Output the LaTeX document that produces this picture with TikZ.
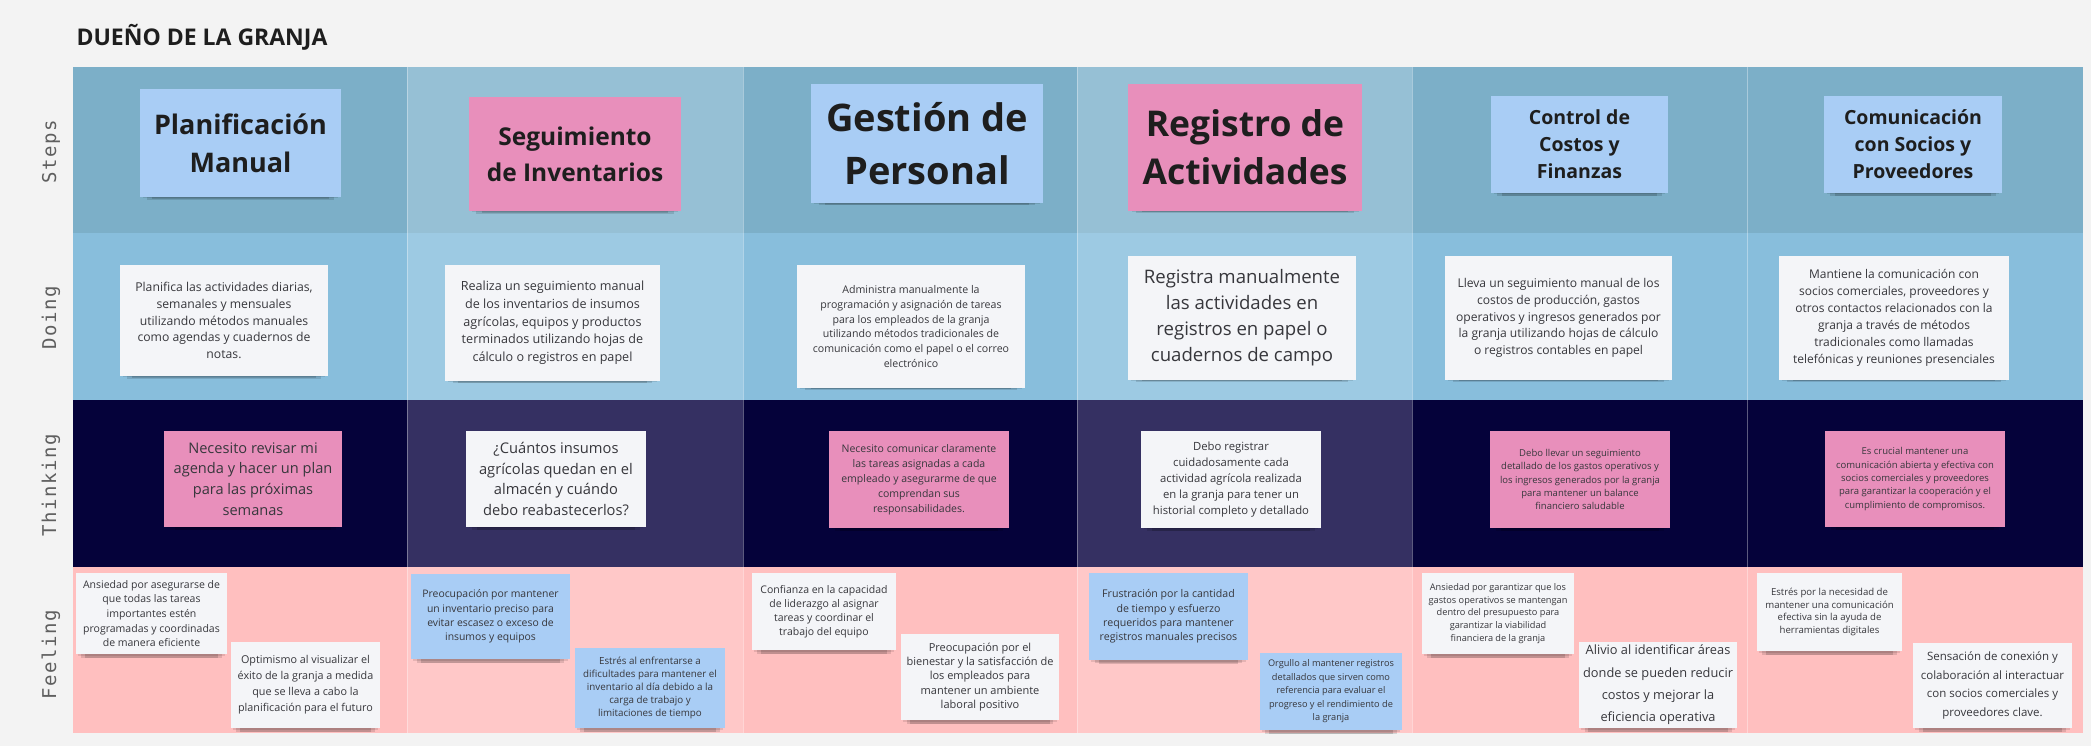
\documentclass[tikz,border=0pt]{standalone}
\usepackage{fontspec}
\setmainfont{Open Sans}
\newfontfamily\labelfont[LetterSpace=8]{DejaVu Sans Mono}
\usepackage{xcolor}
\definecolor{pagebg}{RGB}{243, 243, 243}
\definecolor{titleblack}{RGB}{30, 30, 30}
\definecolor{labelgray}{RGB}{95, 95, 95}
\definecolor{stepdark}{RGB}{124, 175, 200}
\definecolor{steplight}{RGB}{150, 192, 213}
\definecolor{doingdark}{RGB}{136, 190, 220}
\definecolor{doinglight}{RGB}{157, 202, 227}
\definecolor{thinkdark}{RGB}{5, 2, 58}
\definecolor{thinklight}{RGB}{53, 48, 98}
\definecolor{feeldark}{RGB}{255, 191, 191}
\definecolor{feellight}{RGB}{255, 200, 200}
\definecolor{noteblue}{RGB}{169, 205, 245}
\definecolor{notepink}{RGB}{232, 143, 187}
\definecolor{notewhite}{RGB}{244, 245, 248}
\definecolor{notetext}{RGB}{55, 55, 60}
\usepackage{tikz}
\usetikzlibrary{shadows}
\newcommand\fsz[2]{\fontsize{#1}{#2}\selectfont}
\tikzset{
  sticky/.style={align=center, inner sep=0pt, text=notetext,
                 drop shadow={shadow xshift=0pt, shadow yshift=-3pt,
                              shadow scale=0.97, opacity=0.10, fill=black},
                 drop shadow={shadow xshift=0pt, shadow yshift=-7pt,
                              shadow scale=0.93, opacity=0.12, fill=black},
                 drop shadow={shadow xshift=0pt, shadow yshift=-10pt,
                              shadow scale=0.88, opacity=0.14, fill=black}},
  bluenote/.style={sticky, fill=noteblue},
  pinknote/.style={sticky, fill=notepink},
  whitenote/.style={sticky, fill=notewhite},
  steptitle/.style={text=titleblack},
  rowlabel/.style={rotate=90, text=labelgray, font=\labelfont\fsz{19}{22}},
  colline/.style={draw=white, opacity=0.35, line width=1pt}
}

\begin{document}
\begin{tikzpicture}[x=1pt, y=-1pt]
    \fill[pagebg] (0,0) rectangle (2091,746);
    \useasboundingbox (0,0) rectangle (2091,746);

    \node[anchor=west, font=\bfseries\fsz{23}{28}, text=titleblack]
         (title) at (73,37) {DUEÑO DE LA GRANJA};

    \fill[stepdark] (73,67) rectangle (2083,233);
    \fill[steplight] (407,67) rectangle (743,233);
    \fill[steplight] (1077,67) rectangle (1412,233);
    \fill[doingdark] (73,233) rectangle (2083,400);
    \fill[doinglight] (407,233) rectangle (743,400);
    \fill[doinglight] (1077,233) rectangle (1412,400);
    \fill[thinkdark] (73,400) rectangle (2083,567);
    \fill[thinklight] (407,400) rectangle (743,567);
    \fill[thinklight] (1077,400) rectangle (1412,567);
    \fill[feeldark] (73,567) rectangle (2083,733);
    \fill[feellight] (407,567) rectangle (743,733);
    \fill[feellight] (1077,567) rectangle (1412,733);
    \draw[colline] (407,67) -- (407,733);
    \draw[colline] (743,67) -- (743,733);
    \draw[colline] (1077,67) -- (1077,733);
    \draw[colline] (1412,67) -- (1412,733);
    \draw[colline] (1747,67) -- (1747,733);

    \node[rowlabel] (lsteps) at (51,152) {Steps};
    \node[rowlabel] (ldoing) at (51,318) {Doing};
    \node[rowlabel] (lthink) at (51,485) {Thinking};
    \node[rowlabel] (lfeel) at (51,655) {Feeling};

    % steps
    \node[bluenote, steptitle, minimum width=201, minimum height=108,
          font=\bfseries\fsz{27}{38}] (plan) at (240.5,143)
         {Planificación\\Manual};
    \node[pinknote, steptitle, minimum width=212, minimum height=114,
          font=\bfseries\fsz{24.5}{36}] (inv) at (575,154)
         {Seguimiento\\de Inventarios};
    \node[bluenote, steptitle, minimum width=232, minimum height=119,
          font=\bfseries\fsz{38}{53}] (pers) at (927,143.5)
         {Gestión de\\Personal};
    \node[pinknote, steptitle, minimum width=234, minimum height=127,
          font=\bfseries\fsz{35.5}{48}] (reg) at (1245,147.5)
         {Registro de\\Actividades};
    \node[bluenote, steptitle, minimum width=177, minimum height=97,
          font=\bfseries\fsz{19.5}{27}] (cost) at (1579.5,144.5)
         {Control de\\Costos y\\Finanzas};
    \node[bluenote, steptitle, minimum width=178, minimum height=97,
          font=\bfseries\fsz{19.5}{27}] (com) at (1913,144.5)
         {Comunicación\\con Socios y\\Proveedores};

    % doing
    \node[whitenote, minimum width=208, minimum height=111,
          font=\fsz{12.2}{16.8}] (planD) at (224,320.5)
         {Planifica las actividades diarias,\\semanales y mensuales\\utilizando métodos manuales\\como agendas y cuadernos de\\notas.};
    \node[whitenote, minimum width=215, minimum height=116,
          font=\fsz{12.6}{17.7}] (invD) at (552.5,323)
         {Realiza un seguimiento manual\\de los inventarios de insumos\\agrícolas, equipos y productos\\terminados utilizando hojas de\\cálculo o registros en papel};
    \node[whitenote, minimum width=228, minimum height=123,
          font=\fsz{10.6}{14.9}] (persD) at (911,326.5)
         {Administra manualmente la\\programación y asignación de tareas\\para los empleados de la granja\\utilizando métodos tradicionales de\\comunicación como el papel o el correo\\electrónico};
    \node[whitenote, minimum width=228, minimum height=124,
          font=\fsz{18.6}{26}] (regD) at (1242,318)
         {Registra manualmente\\las actividades en\\registros en papel o\\cuadernos de campo};
    \node[whitenote, minimum width=227, minimum height=124,
          font=\fsz{12.1}{16.7}] (costD) at (1558.5,318)
         {Lleva un seguimiento manual de los\\costos de producción, gastos\\operativos y ingresos generados por\\la granja utilizando hojas de cálculo\\o registros contables en papel};
    \node[whitenote, minimum width=230, minimum height=124,
          font=\fsz{12}{16.9}] (comD) at (1894,318)
         {Mantiene la comunicación con\\socios comerciales, proveedores y\\otros contactos relacionados con la\\granja a través de métodos\\tradicionales como llamadas\\telefónicas y reuniones presenciales};

    % thinking
    \node[pinknote, minimum width=178, minimum height=96,
          font=\fsz{14.6}{20.6}] (planT) at (253,479)
         {Necesito revisar mi\\agenda y hacer un plan\\para las próximas\\semanas};
    \node[whitenote, minimum width=180, minimum height=96,
          font=\fsz{14.7}{20.6}] (invT) at (556,479)
         {¿Cuántos insumos\\agrícolas quedan en el\\almacén y cuándo\\debo reabastecerlos?};
    \node[pinknote, minimum width=180, minimum height=97,
          font=\fsz{10.5}{15}] (persT) at (919,479.5)
         {Necesito comunicar claramente\\las tareas asignadas a cada\\empleado y asegurarme de que\\comprendan sus\\responsabilidades.};
    \node[whitenote, minimum width=180, minimum height=97,
          font=\fsz{11.3}{15.8}] (regT) at (1231,479.5)
         {Debo registrar\\cuidadosamente cada\\actividad agrícola realizada\\en la granja para tener un\\historial completo y detallado};
    \node[pinknote, minimum width=180, minimum height=97,
          font=\fsz{9.5}{13.1}] (costT) at (1580,479.5)
         {Debo llevar un seguimiento\\detallado de los gastos operativos y\\los ingresos generados por la granja\\para mantener un balance\\financiero saludable};
    \node[pinknote, minimum width=180, minimum height=96,
          font=\fsz{9.5}{13.3}] (comT) at (1915,479)
         {Es crucial mantener una\\comunicación abierta y efectiva con\\socios comerciales y proveedores\\para garantizar la cooperación y el\\cumplimiento de compromisos.};

    % feeling
    \node[whitenote, minimum width=151, minimum height=81,
          font=\fsz{10.5}{14.6}] (planFa) at (151.5,613.5)
         {Ansiedad por asegurarse de\\que todas las tareas\\importantes estén\\programadas y coordinadas\\de manera eficiente};
    \node[whitenote, minimum width=149, minimum height=86,
          font=\fsz{10.8}{16.1}] (planFb) at (305.5,685)
         {Optimismo al visualizar el\\éxito de la granja a medida\\que se lleva a cabo la\\planificación para el futuro};
    \node[bluenote, minimum width=159, minimum height=85,
          font=\fsz{10.4}{14.4}] (invFa) at (490.5,616.5)
         {Preocupación por mantener\\un inventario preciso para\\evitar escasez o exceso de\\insumos y equipos};
    \node[bluenote, minimum width=150, minimum height=80,
          font=\fsz{9.8}{12.9}] (invFb) at (650,688)
         {Estrés al enfrentarse a\\dificultades para mantener el\\inventario al día debido a la\\carga de trabajo y\\limitaciones de tiempo};
    \node[whitenote, minimum width=144, minimum height=77,
          font=\fsz{10.5}{13.9}] (persFa) at (824,611.5)
         {Confianza en la capacidad\\de liderazgo al asignar\\tareas y coordinar el\\trabajo del equipo};
    \node[whitenote, minimum width=158, minimum height=86,
          font=\fsz{11}{14.2}] (persFb) at (980,677)
         {Preocupación por el\\bienestar y la satisfacción de\\los empleados para\\mantener un ambiente\\laboral positivo};
    \node[bluenote, minimum width=159, minimum height=87,
          font=\fsz{10.6}{14.2}] (regFa) at (1168.5,616.5)
         {Frustración por la cantidad\\de tiempo y esfuerzo\\requeridos para mantener\\registros manuales precisos};
    \node[bluenote, minimum width=142, minimum height=77,
          font=\fsz{9.2}{13.5}] (regFb) at (1331,691.5)
         {Orgullo al mantener registros\\detallados que sirven como\\referencia para evaluar el\\progreso y el rendimiento de\\la granja};
    \node[whitenote, minimum width=152, minimum height=81,
          font=\fsz{9.2}{12.7}] (costFa) at (1498,613.5)
         {Ansiedad por garantizar que los\\gastos operativos se mantengan\\dentro del presupuesto para\\garantizar la viabilidad\\financiera de la granja};
    \node[whitenote, minimum width=158, minimum height=86,
          font=\fsz{12.8}{22.4}] (costFb) at (1658,685)
         {Alivio al identificar áreas\\donde se pueden reducir\\costos y mejorar la\\eficiencia operativa};
    \node[whitenote, minimum width=145, minimum height=78,
          font=\fsz{9.6}{12.8}] (comFa) at (1829.5,612)
         {Estrés por la necesidad de\\mantener una comunicación\\efectiva sin la ayuda de\\herramientas digitales};
    \node[whitenote, minimum width=159, minimum height=85,
          font=\fsz{11.5}{18.9}] (comFb) at (1992.5,685.5)
         {Sensación de conexión y\\colaboración al interactuar\\con socios comerciales y\\proveedores clave.};
\end{tikzpicture}
\end{document}
